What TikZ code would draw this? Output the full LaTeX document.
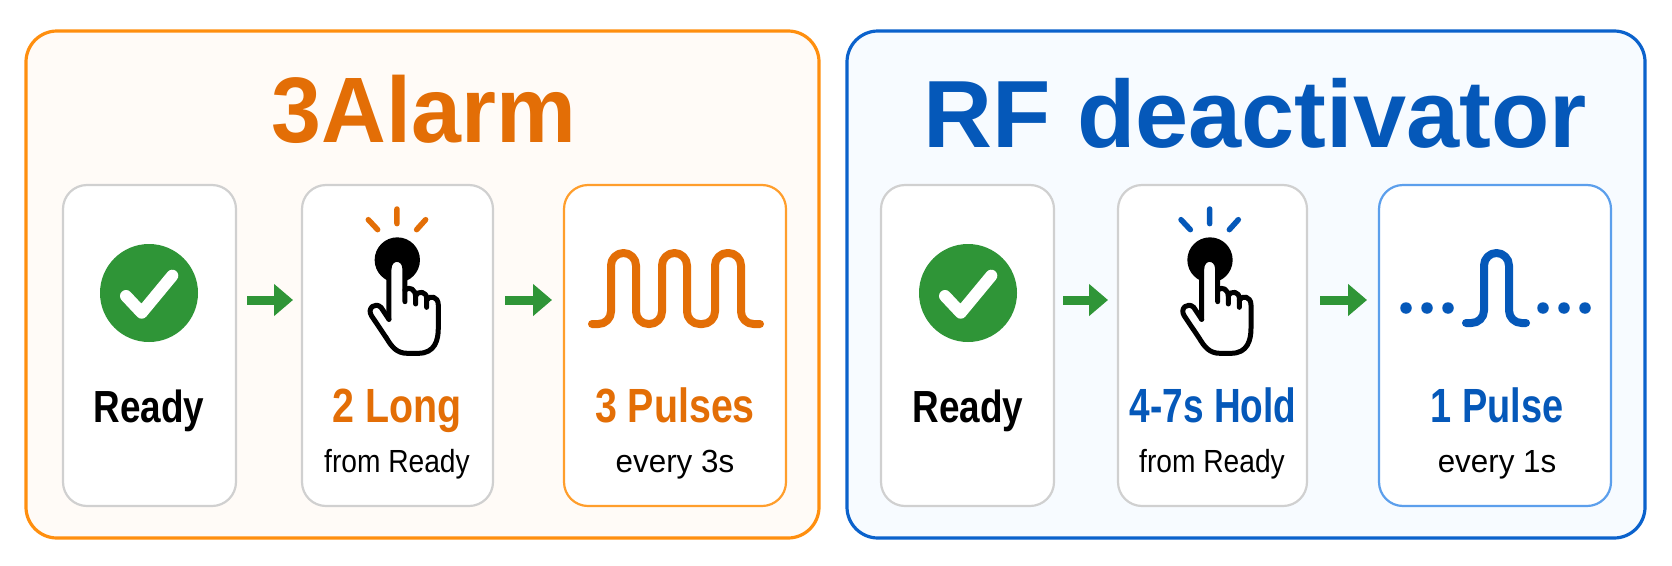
\documentclass[tikz,border=0pt]{standalone}
\usepackage{fontspec}
\usetikzlibrary{arrows.meta}
\setmainfont{Liberation Sans}
\newfontface\titleA[FakeStretch=0.965]{Liberation Sans Bold}
\newfontface\titleB{Liberation Sans Bold}
\newfontface\headf[FakeStretch=0.82]{Liberation Sans Bold}
\newfontface\holdf[FakeStretch=0.77]{Liberation Sans Bold}
\newfontface\onef[FakeStretch=0.79]{Liberation Sans Bold}
\newfontface\subf[FakeStretch=0.88]{Liberation Sans}
\newfontface\subwide[FakeStretch=0.98]{Liberation Sans}
\definecolor{orangeline}{HTML}{FF8F0F}
\definecolor{orangefill}{HTML}{FFFBF7}
\definecolor{orangetext}{HTML}{E36E06}
\definecolor{orangecard}{HTML}{FF9E2C}
\definecolor{blueline}{HTML}{0B62CC}
\definecolor{bluefill}{HTML}{F7FBFF}
\definecolor{bluetext}{HTML}{0558B9}
\definecolor{bluecard}{HTML}{5C9FEC}
\definecolor{okgreen}{HTML}{2F9537}
\definecolor{cardgrey}{HTML}{D0D0D0}
\tikzset{
  panelbox/.style={rectangle,rounded corners=31pt,line width=3.2pt,inner sep=0pt,outer sep=0pt,anchor=north west},
  cardbox/.style={rectangle,rounded corners=24pt,line width=2.2pt,draw=cardgrey,fill=white,inner sep=0pt,outer sep=0pt,anchor=north west,minimum height=321pt},
  flowarrow/.style={draw=okgreen,line width=9pt,-{Triangle[length=19pt,width=31pt]}},
  headtext/.style={anchor=base,font=\headf\fontsize{45pt}{45pt}\selectfont,inner sep=0pt},
  headbig/.style={anchor=base,font=\headf\fontsize{48pt}{48pt}\selectfont,inner sep=0pt},
  holdtext/.style={anchor=base,font=\holdf\fontsize{48pt}{48pt}\selectfont,inner sep=0pt},
  onetext/.style={anchor=base,font=\onef\fontsize{48pt}{48pt}\selectfont,inner sep=0pt},
  subtext/.style={anchor=base,font=\subf\fontsize{32pt}{32pt}\selectfont,text=black,inner sep=0pt},
  subeach/.style={anchor=base,font=\subwide\fontsize{32pt}{32pt}\selectfont,text=black,inner sep=0pt},
  titletext/.style={anchor=base,inner sep=0pt},
  wave/.style={line width=8pt,line cap=round,line join=round},
  pulsedot/.style={circle,inner sep=0pt,minimum size=11.5pt},
}
\newcommand{\okmark}[3]{% name, x, y
  \node[circle,fill=okgreen,minimum size=98pt,inner sep=0pt] (#1) at (#2,#3) {};
  \draw[white,line width=12pt,line cap=round,line join=round]
    ([shift={(-23,3)}]#1.center) -- ([shift={(-7.3,19.7)}]#1.center) -- ([shift={(23.3,-17.3)}]#1.center);
}
\newcommand{\tapicon}[3]{% x, y of the button centre, ray colour
  \begin{scope}[shift={(#1-77.33,#2-70)},x=0.3333pt,y=-0.3333pt]
    \draw[#3,line width=5.5pt,line cap=round] (231,57)--(231,101) (145,89)--(173,119) (317,89)--(290,119);
    \fill[black] (232,210) circle[radius=68];
    \fill[white] (207,388)--(207,238) .. controls (207,198) and (255,198) .. (255,238)--(255,300)
      .. controls (268,288) and (287,298) .. (287,320)
      .. controls (295,300) and (320,305) .. (320,330)
      .. controls (328,315) and (355,318) .. (355,345)--(355,415)
      .. controls (355,450) and (345,490) .. (295,490)--(262,490)
      .. controls (230,490) and (215,470) .. (200,445)--(155,378)
      .. controls (140,355) and (165,335) .. (183,352)--cycle;
    \draw[black,line width=5pt,line cap=round,line join=round]
      (207,388)--(207,238) .. controls (207,198) and (255,198) .. (255,238)--(255,335);
    \draw[black,line width=5pt,line cap=round,line join=round]
      (255,300) .. controls (268,288) and (287,298) .. (287,320)--(287,342);
    \draw[black,line width=5pt,line cap=round,line join=round]
      (287,318) .. controls (295,300) and (320,305) .. (320,325)--(320,352);
    \draw[black,line width=5pt,line cap=round,line join=round]
      (320,330) .. controls (328,315) and (355,318) .. (355,345)--(355,415)
      .. controls (355,450) and (345,490) .. (295,490)--(262,490)
      .. controls (230,490) and (215,470) .. (200,445)--(155,378)
      .. controls (140,355) and (165,335) .. (183,352)--(207,388);
  \end{scope}
}
\begin{document}
\begin{tikzpicture}[x=1pt,y=-1pt]
\useasboundingbox[fill=white] (0,0) rectangle (1672,565);
% panels
\node[panelbox,draw=orangeline,fill=orangefill,minimum width=793pt,minimum height=507pt] (panelA) at (26,31) {};
\node[panelbox,draw=blueline,fill=bluefill,minimum width=798pt,minimum height=507pt] (panelB) at (847,31) {};
\node[titletext,text=orangetext,font=\titleA\fontsize{93pt}{93pt}\selectfont] (titleA) at (424,142) {3Alarm};
\node[titletext,text=bluetext,font=\titleB\fontsize{95.5pt}{95.5pt}\selectfont] (titleB) at (1255,147) {RF deactivator};
% cards
\node[cardbox,minimum width=173pt] (readyA) at (63,185) {};
\node[cardbox,minimum width=191pt] (longA) at (302,185) {};
\node[cardbox,minimum width=222pt,draw=orangecard] (pulseA) at (564,185) {};
\node[cardbox,minimum width=173pt] (readyB) at (881,185) {};
\node[cardbox,minimum width=189pt] (holdB) at (1118,185) {};
\node[cardbox,minimum width=232pt,draw=bluecard] (pulseB) at (1379,185) {};
\coordinate (row) at (0,300);
% arrows
\draw[flowarrow,shorten <=11pt,shorten >=9pt] (readyA.east |- row) -- (longA.west |- row);
\draw[flowarrow,shorten <=12pt,shorten >=12pt] (longA.east |- row) -- (pulseA.west |- row);
\draw[flowarrow,shorten <=9pt,shorten >=10pt] (readyB.east |- row) -- (holdB.west |- row);
\draw[flowarrow,shorten <=13pt,shorten >=12pt] (holdB.east |- row) -- (pulseB.west |- row);
% icons
\okmark{okA}{149}{293}
\okmark{okB}{968}{293}
\tapicon{397.3}{260}{orangetext}
\tapicon{1210}{260}{bluetext}
\draw[wave,orangetext,rounded corners=12.5pt] (592,324)--(611,324)--(611,253)--(636,253)--(636,324)--(662,324)--(662,253)--(687,253)--(687,324)--(715,324)--(715,253)--(741,253)--(741,324)--(760,324);
\draw[wave,bluetext,rounded corners=12.5pt] (1466,323)--(1484,323)--(1484,253)--(1509,253)--(1509,323)--(1526,323);
\foreach \n/\dx in {a/1406,b/1427,c/1448,d/1543,e/1564,f/1585}
  \node[pulsedot,fill=bluetext] (dot\n) at (\dx,308) {};
% labels
\node[headtext,text=black] (lblReadyA) at (149,422) {Ready};
\node[headbig,text=orangetext] (lblLong) at (397,422) {2 Long};
\node[subtext] (subLong) at (397,472) {from Ready};
\node[headbig,text=orangetext] (lblPulses) at (675,422) {3 Pulses};
\node[subeach] (subPulses) at (675,472) {every 3s};
\node[headtext,text=black] (lblReadyB) at (968,422) {Ready};
\node[holdtext,text=bluetext] (lblHold) at (1213,422) {4-7s Hold};
\node[subtext] (subHold) at (1212,472) {from Ready};
\node[onetext,text=bluetext] (lblPulse) at (1497,422) {1 Pulse};
\node[subeach] (subPulse) at (1497,472) {every 1s};
\end{tikzpicture}
\end{document}
